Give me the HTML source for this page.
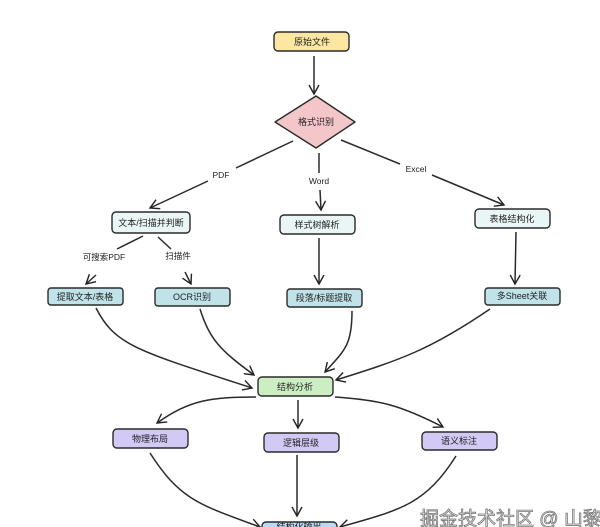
<!DOCTYPE html>
<html><head><meta charset="utf-8"><style>
html,body{margin:0;padding:0;background:#fff;width:600px;height:527px;overflow:hidden}
svg text{font-family:"Liberation Sans","Noto Sans CJK SC",sans-serif}
</style></head><body>
<svg width="600" height="527" viewBox="0 0 600 527" xmlns="http://www.w3.org/2000/svg">
<defs>
<marker id="a" markerWidth="12" markerHeight="12" refX="10" refY="6" orient="auto" markerUnits="userSpaceOnUse">
<path d="M1,1 L10,6 L1,11" fill="none" stroke="#222" stroke-width="1.4"/>
</marker>
</defs>
<g fill="none" stroke="#2a2a2a" stroke-width="1.5">
<line x1="314" y1="56" x2="314" y2="94" marker-end="url(#a)"/>
<line x1="293" y1="141" x2="236" y2="168"/>
<line x1="208" y1="181" x2="150" y2="208" marker-end="url(#a)"/>
<line x1="319" y1="153" x2="319" y2="173"/>
<line x1="320" y1="190" x2="321" y2="210" marker-end="url(#a)"/>
<line x1="341" y1="140" x2="400" y2="164"/>
<line x1="432" y1="175" x2="504" y2="205" marker-end="url(#a)"/>
<line x1="143" y1="236" x2="117" y2="249"/>
<line x1="96" y1="275" x2="86" y2="284" marker-end="url(#a)"/>
<line x1="158" y1="237" x2="171" y2="249"/>
<line x1="185" y1="272" x2="191" y2="284" marker-end="url(#a)"/>
<line x1="319" y1="238" x2="319" y2="284" marker-end="url(#a)"/>
<line x1="516" y1="232" x2="515" y2="284" marker-end="url(#a)"/>
<path d="M96,308 C115,345 135,350 252,388" marker-end="url(#a)"/>
<path d="M200,309 C210,340 220,350 254,375" marker-end="url(#a)"/>
<path d="M352,311 C352,345 345,350 325,372" marker-end="url(#a)"/>
<path d="M490,309 C430,350 400,360 336,380" marker-end="url(#a)"/>
<path d="M256,397 C210,397 190,400 157,423" marker-end="url(#a)"/>
<line x1="298" y1="400" x2="298" y2="428" marker-end="url(#a)"/>
<path d="M335,397 C380,400 400,405 443,427" marker-end="url(#a)"/>
<path d="M150,453 C180,500 200,505 260,527" marker-end="url(#a)"/>
<line x1="297" y1="455" x2="297" y2="516" marker-end="url(#a)"/>
<path d="M456,456 C425,505 400,510 340,527" marker-end="url(#a)"/>
</g>
<g stroke="#2a2a2a" stroke-width="1.4">
<rect x="274" y="32" width="75" height="19" rx="4" fill="#fbe7a1"/>
<path d="M316,96 L355,122 L316,148 L275,122 Z" fill="#f3c6ca" stroke-linejoin="round"/>
<rect x="112" y="212" width="78" height="21" rx="4" fill="#eaf5f6"/>
<rect x="280" y="215" width="75" height="19" rx="4" fill="#eaf5f6"/>
<rect x="475" y="209" width="75" height="19" rx="4" fill="#eaf5f6"/>
<rect x="48" y="288" width="75" height="17" rx="3" fill="#bfe3e8"/>
<rect x="155" y="288" width="75" height="18" rx="3" fill="#bfe3e8"/>
<rect x="287" y="289" width="75" height="18" rx="3" fill="#bfe3e8"/>
<rect x="485" y="288" width="75" height="17" rx="3" fill="#bfe3e8"/>
<rect x="258" y="377" width="75" height="19" rx="4" fill="#cdeec2"/>
<rect x="113" y="429" width="75" height="19" rx="4" fill="#d3c9f5"/>
<rect x="264" y="433" width="75" height="19" rx="4" fill="#d3c9f5"/>
<rect x="422" y="432" width="75" height="18" rx="4" fill="#d3c9f5"/>
<rect x="262" y="522" width="75" height="19" rx="4" fill="#b9d9f6"/>
</g>
<g font-size="9" fill="#222" text-anchor="middle">
<text x="312" y="45">原始文件</text>
<text x="316" y="125">格式识别</text>
<text x="151" y="226">文本/扫描并判断</text>
<text x="317" y="228">样式树解析</text>
<text x="512" y="222">表格结构化</text>
<text x="85" y="300">提取文本/表格</text>
<text x="192" y="300">OCR识别</text>
<text x="324" y="301">段落/标题提取</text>
<text x="522" y="299">多Sheet关联</text>
<text x="295" y="390">结构分析</text>
<text x="150" y="442">物理布局</text>
<text x="301" y="446">逻辑层级</text>
<text x="459" y="444">语义标注</text>
<text x="299" y="530">结构化输出</text>
<text x="221" y="178" font-size="8.5">PDF</text>
<text x="319" y="184" font-size="8.5">Word</text>
<text x="416" y="172" font-size="8.5">Excel</text>
<text x="104" y="260" font-size="8.5">可搜索PDF</text>
<text x="178" y="259" font-size="8.5">扫描件</text>
</g>
<text x="420" y="525" font-size="19" fill="#eee" stroke="#777" stroke-width="0.8">掘金技术社区 @ 山黎</text>
</svg>
</body></html>
